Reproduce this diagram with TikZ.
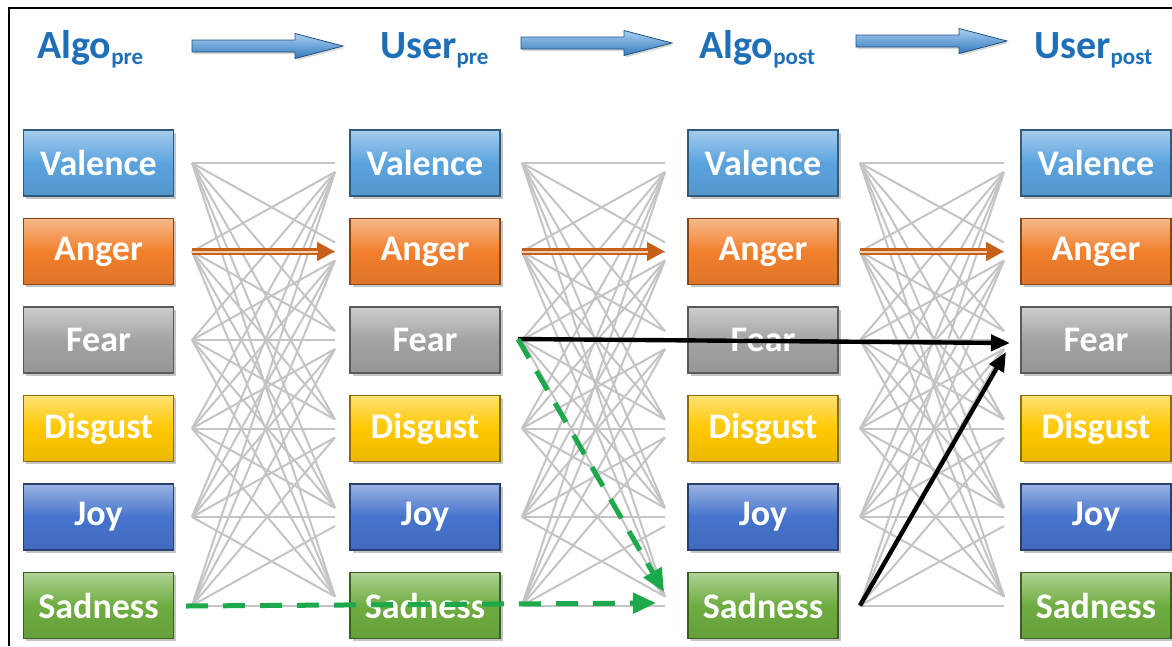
\documentclass[tikz,border=0pt]{standalone}
\usepackage{fontspec}
\setmainfont{Carlito}
\usetikzlibrary{shadows,arrows.meta,calc}
\definecolor{hdrc}{HTML}{1F6FB8}
\definecolor{cval}{HTML}{5BA3DE}
\definecolor{cang}{HTML}{F27F2C}
\definecolor{cfear}{HTML}{A3A3A3}
\definecolor{cdis}{HTML}{FFC800}
\definecolor{cjoy}{HTML}{4674CC}
\definecolor{csad}{HTML}{6EAD40}
\definecolor{gline}{HTML}{C4C4C4}
\definecolor{angd}{HTML}{C8601A}
\definecolor{angl}{HTML}{F8CFAE}
\definecolor{grn}{HTML}{1BA94C}
\definecolor{arrl}{HTML}{A8D0F2}
\definecolor{arrd}{HTML}{3479BD}
\definecolor{arro}{HTML}{24507E}
\newcommand\hsub[1]{{\fontsize{23}{23}\selectfont\raisebox{-6.5pt}{#1}}}
\begin{document}
\begin{tikzpicture}[x=1pt,y=-1pt,
  hdr/.style={text=hdrc,font=\fontsize{40}{44}\selectfont\bfseries,inner sep=0pt},
  harr/.style={draw=arro,line width=0.8pt,top color=arrl,bottom color=arrd,
    drop shadow={opacity=0.3,shadow xshift=1.5pt,shadow yshift=-2pt}},
  emo/.style={draw=#1!55!black,line width=1.2pt,top color=#1!55!white,bottom color=#1!92!black,
    middle color=#1,minimum width=150pt,minimum height=66pt,inner sep=0pt,
    text=white,font=\fontsize{36}{40}\selectfont\bfseries,
    drop shadow={opacity=0.45,shadow xshift=2.5pt,shadow yshift=-2.5pt}},
  gl/.style={draw=gline,line width=2pt},
  angr/.style={draw=angd,line width=7pt,-{Triangle[length=18pt,width=18pt]}},
  angi/.style={draw=angl,line width=2pt,shorten >=17pt},
  blk/.style={draw=black,line width=4.4pt,-{Triangle[length=19pt,width=16pt]}},
  gdash/.style={draw=grn,line width=5pt,dash pattern=on 22pt off 15pt,-{Triangle[length=23pt,width=20pt]}}
]
\useasboundingbox (0,0) rectangle (1172,646);
\fill[white] (0,0) rectangle (1172,646);
\draw[line width=2.2pt] (9,646) -- (9,8) -- (1172,8);

% headers
\node[hdr,anchor=base west] (h1) at (37,58) {Algo\hsub{pre}};
\node[hdr,anchor=base west] (h2) at (380,58) {User\hsub{pre}};
\node[hdr,anchor=base west] (h3) at (699,58) {Algo\hsub{post}};
\node[hdr,anchor=base west] (h4) at (1034,58) {User\hsub{post}};

% header block arrows
\foreach \n/\x/\y in {1/192/46,2/521/43,3/856/41}{
  \coordinate (ha\n) at (\x,\y);
  \path[harr] ($(ha\n)+(0,-6)$) -- ++(103,0) -- ++(0,-6.5) -- ++(48,12.5)
     -- ++(-48,12.5) -- ++(0,-6.5) -- ++(-103,0) -- cycle;
}

% gap coordinates
\foreach \g/\L/\R in {1/192/335,2/522/665,3/860/1004}{
  \foreach \r in {0,...,5}{
    \coordinate (L\g-\r) at (\L,{163+88.5*\r});
    \coordinate (R\g-\r) at (\R,{163+88.5*\r});
  }
}
% gray full connections
\foreach \g in {1,2,3}{
  \foreach \i in {0,...,5}{
    \foreach \j in {0,...,5}{
      \pgfmathsetmacro\off{(\i>\j)*9-(\i<\j)*9}
      \draw[gl] (L\g-\i) -- ($(R\g-\j)+(0,\off)$);
    }
  }
}

% boxes
\foreach \cx [count=\c] in {98.5,425,763,1096}{
  \foreach \lab/\col [count=\r from 0] in {Valence/cval,Anger/cang,Fear/cfear,Disgust/cdis,Joy/cjoy,Sadness/csad}{
    \node[emo=\col] (b\c-\r) at (\cx,{163+88.5*\r}) {\lab};
  }
}

% anger arrows
\foreach \g in {1,2,3}{
  \draw[angr] (L\g-1) -- (R\g-1);
  \draw[angi] (L\g-1) -- (R\g-1);
}

% black arrows
\coordinate (fin1) at (1010,343);
\coordinate (fin2) at (1006,352);
\coordinate (fs1) at (518,339);
\draw[blk] (fs1) -- (fin1);
\draw[blk] (L3-5) -- (fin2);

% green dashed arrows
\coordinate (gs1) at (186,606);
\coordinate (ge1) at (656,603);
\coordinate (ge2) at (664,592);
\draw[gdash] (gs1) -- (ge1);
\draw[gdash] (fs1) -- (ge2);
\end{tikzpicture}
\end{document}
